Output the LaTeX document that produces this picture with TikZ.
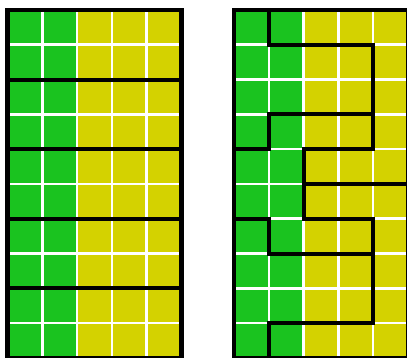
\documentclass[tikz,border=0pt]{standalone}
\definecolor{cellgreen}{RGB}{26,195,31}
\definecolor{cellyellow}{RGB}{212,210,0}
\begin{document}
\begin{tikzpicture}[
    gridline/.style={white, line width=2.1pt},
    wall/.style={black, line width=3.3pt, line join=miter}]
  \useasboundingbox (-0.2155,0.0) rectangle (11.48,10.287);
  \foreach \ox in {0,6.509} {
    \fill[cellgreen] (\ox,0) rectangle ++(2,10);
    \fill[cellyellow] (\ox+2,0) rectangle ++(3,10);
    \foreach \c in {1,...,4} \draw[gridline] (\ox+\c,0) -- ++(0,10);
    \foreach \r in {1,...,9} \draw[gridline] (\ox,\r) -- ++(5,0);
    \draw[wall] (\ox,0) rectangle ++(5,10);
  }
  % left: five bands of two rows each
  \foreach \r in {2,4,6,8} \draw[wall] (0,\r) -- (5,\r);
  % right: interlocking pieces
  \begin{scope}[xshift=6.509cm]
    \draw[wall] (1,10) -- (1,9) -- (4,9) -- (4,6) -- (2,6) -- (2,4) -- (4,4) -- (4,1) -- (1,1) -- (1,0);
    \draw[wall] (0,6) -- (1,6) -- (1,7) -- (4,7);
    \draw[wall] (2,5) -- (5,5);
    \draw[wall] (0,4) -- (1,4) -- (1,3) -- (4,3);
  \end{scope}
\end{tikzpicture}
\end{document}
